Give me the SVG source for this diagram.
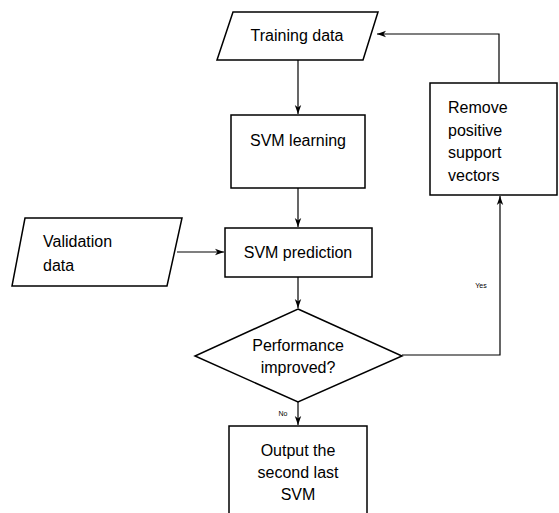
<svg xmlns="http://www.w3.org/2000/svg" width="559" height="513" viewBox="0 0 559 513">
<style>
.s{fill:#fff;stroke:#000;stroke-width:1.5}
.c{fill:none;stroke:#000;stroke-width:1.2}
text{font-family:"Liberation Sans",Arial,sans-serif;font-size:16px;fill:#000}
.m{text-anchor:middle}
.sm{font-size:7px}
</style>
<defs>
<marker id="a" markerWidth="10" markerHeight="8" refX="9" refY="4" orient="auto" markerUnits="userSpaceOnUse">
<path d="M0,0.8 L9,4 L0,7.2 L2.5,4 Z" fill="#000"/>
</marker>
</defs>
<g id="connectors">
<path class="c" d="M298,60 V114" marker-end="url(#a)"/>
<path class="c" d="M298,188 V227" marker-end="url(#a)"/>
<path class="c" d="M177,252 H224" marker-end="url(#a)"/>
<path class="c" d="M298,277 V308" marker-end="url(#a)"/>
<path class="c" d="M298,402 V425" marker-end="url(#a)"/>
<path class="c" d="M402,355 H500 V196" marker-end="url(#a)"/>
<path class="c" d="M499,83 V34 H377" marker-end="url(#a)"/>
<text class="sm" x="481" y="288" text-anchor="middle">Yes</text>
<text class="sm" x="283" y="416" text-anchor="middle">No</text>
</g>
<g id="training">
<polygon class="s" points="233,12 378,12 363,60 217,60"/>
<text class="m" x="297" y="41">Training data</text>
</g>
<g id="learning">
<rect class="s" x="231" y="115" width="134" height="73"/>
<text class="m" x="298" y="146">SVM learning</text>
</g>
<g id="validation">
<polygon class="s" points="25,218 182,218 167,286 12,286"/>
<text x="43" y="247">Validation</text>
<text x="43" y="271">data</text>
</g>
<g id="prediction">
<rect class="s" x="225" y="228" width="147" height="49"/>
<text class="m" x="298" y="258">SVM prediction</text>
</g>
<g id="decision">
<polygon class="s" points="298,309 402,356 298,402 195,356"/>
<text class="m" x="298" y="351">Performance</text>
<text class="m" x="298" y="373">improved?</text>
</g>
<g id="remove">
<rect class="s" x="430" y="83" width="127" height="112"/>
<text x="448" y="113">Remove</text>
<text x="448" y="136">positive</text>
<text x="448" y="158">support</text>
<text x="448" y="181">vectors</text>
</g>
<g id="output">
<rect class="s" x="229" y="426" width="138" height="100"/>
<text class="m" x="298" y="456">Output the</text>
<text class="m" x="298" y="478">second last</text>
<text class="m" x="298" y="500">SVM</text>
</g>
</svg>
